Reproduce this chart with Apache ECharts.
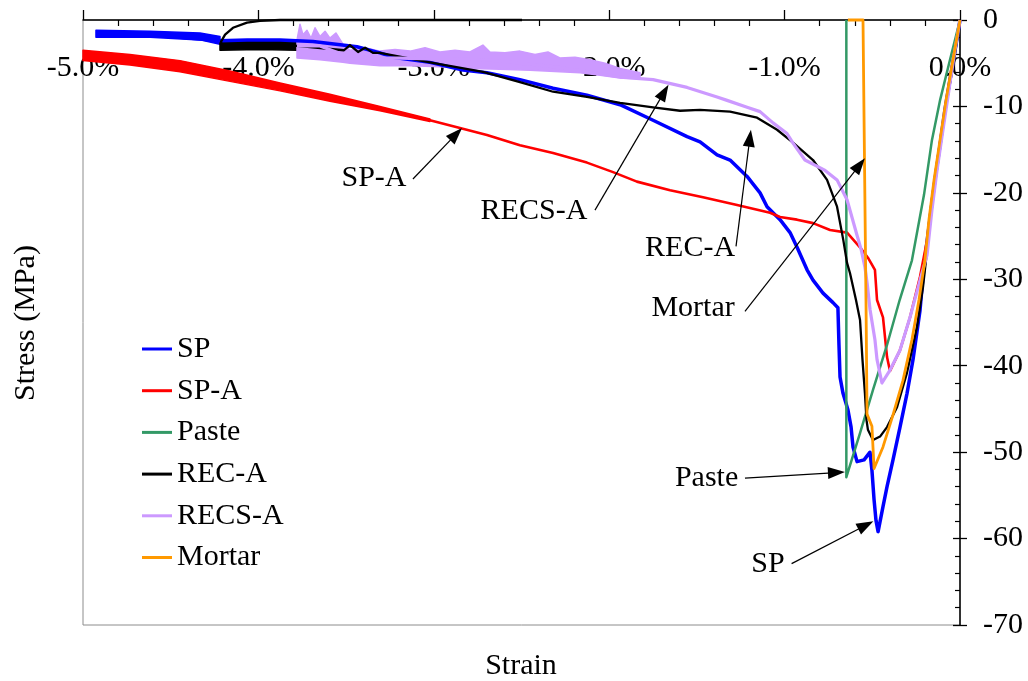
<!DOCTYPE html>
<html>
<head>
<meta charset="utf-8">
<script src="https://cdn.jsdelivr.net/npm/echarts@6/dist/echarts.min.js"></script>
<style>
  html, body { margin: 0; padding: 0; background: #fff; }
  #chart { width: 1028px; height: 681px; }
</style>
</head>
<body>
<div id="chart"></div>
<script>
// ---------- Data (strain in %, stress in MPa) ----------
const xTicks = [-5, -4, -3, -2, -1, 0];
const yTicks = [0, -10, -20, -30, -40, -50, -60, -70];
const seriesNames = ['SP', 'SP-A', 'Paste', 'REC-A', 'RECS-A', 'Mortar'];

const spData = [
  [0,0],[-0.023,-2.9],[-0.057,-6.9],[-0.086,-10.4],[-0.114,-14.5],[-0.143,-18.5],[-0.165,-22.0],
  [-0.194,-26.6],[-0.211,-29.7],[-0.228,-33.6],[-0.268,-39.3],[-0.302,-43.2],[-0.342,-47.1],
  [-0.382,-50.9],[-0.416,-54.0],[-0.439,-56.3],[-0.467,-59.2],
  [-0.479,-57.9],[-0.490,-55.5],[-0.502,-52.1],[-0.513,-50.0],[-0.547,-50.9],[-0.587,-51.1],
  [-0.610,-49.4],[-0.621,-47.1],[-0.639,-45.1],[-0.667,-43.2],[-0.684,-41.3],[-0.690,-37.6],
  [-0.696,-33.3],[-0.724,-32.7],[-0.781,-31.6],[-0.838,-30.1],[-0.872,-28.9],[-0.929,-26.3],
  [-0.969,-24.6],[-1.026,-23.1],[-1.100,-21.6],[-1.140,-20.0],[-1.214,-18.1],[-1.311,-16.2],
  [-1.385,-15.6],[-1.482,-14.1],[-1.556,-13.5],[-1.750,-11.6],[-1.938,-9.8],[-2.127,-8.7],
  [-2.320,-7.9],[-2.509,-6.9],[-2.697,-6.1],[-2.834,-5.8],[-3.022,-4.9],[-3.233,-4.3],
  [-3.307,-3.8],[-3.438,-3.1],[-3.689,-2.5],[-3.877,-2.3],[-4.065,-2.3],[-4.219,-2.4],
  [-4.447,-2.0],[-4.635,-1.7],[-4.829,-1.6],[-4.926,-1.6]
];
const spAData = [
  [0,0],[-0.034,-4.0],[-0.068,-8.1],[-0.103,-12.7],[-0.137,-17.4],[-0.160,-20.8],[-0.188,-25.5],
  [-0.228,-29.7],[-0.285,-34.4],[-0.342,-38.2],[-0.399,-40.6],
  [-0.416,-39.0],[-0.439,-34.4],[-0.473,-32.4],[-0.485,-28.9],[-0.525,-27.5],[-0.570,-26.3],
  [-0.644,-24.6],[-0.741,-24.3],[-0.838,-23.5],[-0.929,-23.1],[-1.026,-22.8],[-1.083,-22.3],
  [-1.271,-21.4],[-1.465,-20.5],[-1.653,-19.7],[-1.842,-18.7],[-1.978,-17.6],[-2.127,-16.5],
  [-2.320,-15.4],[-2.509,-14.5],[-2.697,-13.3],[-2.851,-12.5],[-3.022,-11.6],[-3.307,-10.2],
  [-3.592,-9.0],[-3.877,-7.7],[-4.162,-6.5],[-4.447,-5.3],[-4.732,-4.6],[-5.0,-4.1]
];
const pasteData = [
  [0,0],[-0.057,-4.6],[-0.114,-9.3],[-0.160,-13.9],[-0.205,-20.2],[-0.274,-27.8],[-0.344,-32.4],
  [-0.416,-37.6],[-0.496,-42.8],[-0.570,-47.8],[-0.648,-52.9],[-0.648,0]
];
const recAData = [
  [0,0],[-0.034,-4.6],[-0.074,-9.3],[-0.108,-13.9],[-0.143,-18.5],[-0.171,-23.1],[-0.194,-27.8],
  [-0.211,-30.9],[-0.245,-35.5],[-0.302,-40.8],[-0.359,-44.8],[-0.416,-47.1],[-0.456,-48.2],
  [-0.496,-48.6],
  [-0.525,-47.4],[-0.533,-46.3],[-0.542,-43.2],[-0.556,-39.3],[-0.570,-34.7],[-0.593,-32.4],
  [-0.627,-29.3],[-0.644,-28.1],[-0.665,-25.5],[-0.701,-21.6],[-0.758,-18.5],[-0.838,-16.2],
  [-0.952,-14.2],[-1.043,-12.7],[-1.157,-11.3],[-1.311,-10.6],[-1.482,-10.4],[-1.596,-10.5],
  [-1.750,-10.1],[-1.938,-9.6],[-2.127,-8.9],[-2.320,-8.3],[-2.509,-7.2],[-2.719,-6.0],
  [-3.022,-4.9],[-3.307,-3.8],[-3.347,-3.8],[-3.392,-3.2],[-3.432,-3.7],[-3.478,-2.9],
  [-3.512,-3.5],[-3.780,-3.0],[-3.991,-3.0],[-4.208,-3.0],[-4.213,-2.5],[-4.190,-1.7],
  [-4.145,-0.9],[-4.065,-0.3],[-3.991,-0.1],[-3.877,0],[-2.497,0]
];
const recsAData = [
  [0,0],[-0.029,-3.5],[-0.063,-8.1],[-0.097,-12.7],[-0.131,-17.4],[-0.160,-22.0],[-0.188,-27.2],
  [-0.228,-30.1],[-0.285,-34.4],[-0.342,-38.2],[-0.399,-40.5],[-0.445,-42.0],
  [-0.473,-39.3],[-0.485,-37.0],[-0.513,-33.5],[-0.529,-30.5],[-0.542,-28.6],[-0.563,-26.6],
  [-0.590,-24.7],[-0.644,-20.8],[-0.701,-18.5],[-0.769,-17.4],[-0.884,-16.2],[-0.950,-14.3],
  [-0.988,-13.1],[-1.066,-11.9],[-1.140,-10.6],[-1.214,-10.1],[-1.328,-9.3],[-1.385,-8.9],
  [-1.556,-7.8],[-1.750,-6.9],[-1.938,-6.6],[-2.127,-6.0],[-2.320,-5.4],[-2.509,-5.0],
  [-2.697,-4.6],[-2.891,-4.5],[-3.022,-4.5],[-3.193,-4.4],[-3.364,-4.4],[-3.518,-4.0],
  [-3.649,-3.0],[-3.780,-3.0]
];
const mortarData = [
  [0,0],[-0.040,-4.6],[-0.080,-9.3],[-0.114,-13.9],[-0.148,-18.5],[-0.177,-23.1],[-0.200,-27.8],
  [-0.234,-32.4],[-0.274,-37.0],[-0.325,-41.7],[-0.382,-45.7],[-0.439,-49.4],[-0.490,-51.9],
  [-0.502,-47.0],[-0.530,-45.6],[-0.536,-32.4],[-0.553,0],[-0.639,0]
];

// scatter envelopes of the noisy stretches (upper and lower edges)
const spNoiseUpper = [[-4.926,-1.2],[-4.618,-1.3],[-4.333,-1.5],[-4.219,-1.9]];
const spNoiseLower = [[-4.219,-2.8],[-4.333,-2.3],[-4.618,-2.0],[-4.926,-2.0]];
const spANoiseUpper = [[-5.0,-3.5],[-4.732,-4.0],[-4.447,-4.7],[-4.162,-5.9],[-3.877,-7.3],
  [-3.592,-8.6],[-3.307,-10.0],[-3.022,-11.45]];
const spANoiseLower = [[-3.022,-11.75],[-3.307,-10.5],[-3.592,-9.4],[-3.877,-8.2],[-4.162,-7.1],
  [-4.447,-6.0],[-4.732,-5.2],[-5.0,-4.7]];
const recANoiseUpper = [[-4.219,-2.5],[-4.105,-2.4],[-3.991,-2.5],[-3.877,-2.4],[-3.780,-2.5]];
const recANoiseLower = [[-3.780,-3.5],[-3.991,-3.4],[-4.219,-3.5]];
const recsANoiseUpper = [[-3.780,-2.3],[-3.763,-0.5],[-3.746,-1.7],[-3.723,-1.2],[-3.700,-2.1],
  [-3.677,-0.9],[-3.649,-1.9],[-3.620,-1.3],[-3.592,-2.1],[-3.558,-1.5],[-3.518,-2.8],
  [-3.478,-3.5],[-3.392,-3.2],[-3.307,-3.6],[-3.221,-3.4],[-3.135,-3.6],[-3.050,-3.2],
  [-2.965,-3.7],[-2.879,-3.5],[-2.794,-3.7],[-2.720,-2.9],[-2.680,-3.7],[-2.594,-3.8],
  [-2.509,-3.6],[-2.423,-4.0],[-2.349,-3.7],[-2.281,-4.4],[-2.195,-4.3],[-2.109,-4.6],
  [-2.024,-5.0],[-1.938,-5.6],[-1.824,-6.1]];
const recsANoiseLower = [[-1.824,-6.8],[-1.938,-6.7],[-2.052,-6.4],[-2.166,-6.1],[-2.281,-6.0],
  [-2.452,-5.8],[-2.623,-5.7],[-2.794,-5.6],[-2.965,-5.4],[-3.135,-5.3],[-3.307,-5.3],
  [-3.478,-5.0],[-3.518,-4.9],[-3.649,-4.6],[-3.780,-4.4]];

// annotation labels [strain, stress, text] and arrows [fromStrain, fromStress, toStrain, toStress]
const noteLabels = [
  [-3.341,-18.3,'SP-A'],[-2.429,-22.1,'RECS-A'],[-1.539,-26.4,'REC-A'],
  [-1.522,-33.3,'Mortar'],[-1.445,-53.0,'Paste'],[-1.095,-63.0,'SP']
];
const noteArrows = [
  [-3.119,-18.4,-2.839,-12.5],[-2.081,-22.0,-1.662,-7.5],[-1.277,-26.2,-1.192,-12.7],
  [-1.226,-33.7,-0.542,-16.0],[-1.226,-53.0,-0.656,-52.3],[-0.960,-62.9,-0.494,-58.0]
];

// ---------- Styles ----------
const FONT = '"Liberation Serif", "Times New Roman", serif';
const colors = { 'SP':'#0000ff', 'SP-A':'#ff0000', 'Paste':'#339966', 'REC-A':'#000000', 'RECS-A':'#cc99ff', 'Mortar':'#ff9900' };
const widths = { 'SP':3.5, 'SP-A':2.6, 'Paste':2.5, 'REC-A':2.3, 'RECS-A':3.2, 'Mortar':2.8 };
const mainData = { 'SP':spData, 'SP-A':spAData, 'Paste':pasteData, 'REC-A':recAData, 'RECS-A':recsAData, 'Mortar':mortarData };
const noiseBands = {
  'SP': [spNoiseUpper, spNoiseLower], 'SP-A': [spANoiseUpper, spANoiseLower],
  'REC-A': [recANoiseUpper, recANoiseLower], 'RECS-A': [recsANoiseUpper, recsANoiseLower]
};
const ARROW_HEAD = [12, 17];

const series = [];
seriesNames.forEach(function (name) {
  const band = noiseBands[name];
  if (band) {
    series.push({
      name: name + ' scatter', type: 'custom', silent: true, clip: false, z: 2,
      data: [band[0][0]],
      renderItem: function (params, api) {
        const pts = band[0].concat(band[1]).map(p => api.coord(p));
        return { type: 'polygon', shape: { points: pts },
                 style: { fill: colors[name], stroke: colors[name], lineWidth: 1.5, lineJoin: 'round' } };
      }
    });
  }
  series.push({
    name: name, type: 'line', data: mainData[name], showSymbol: false, symbol: 'none',
    clip: false, lineStyle: { color: colors[name], width: widths[name], join: 'round' },
    itemStyle: { color: colors[name] }, z: 2
  });
});

series.push({
  id: 'notes', name: 'notes', type: 'scatter', data: noteLabels, symbolSize: 1,
  itemStyle: { color: 'rgba(255,255,255,0)', opacity: 1 }, silent: true, z: 5,
  label: { show: true, position: 'inside', formatter: p => p.value[2],
           fontFamily: FONT, fontSize: 30, color: '#000', opacity: 1, textBorderWidth: 0 },
  markLine: {
    silent: true, symbol: ['none', 'triangle'], symbolSize: ARROW_HEAD,
    lineStyle: { color: '#000', width: 1.2, type: 'solid', opacity: 1 },
    itemStyle: { color: '#000' },
    label: { show: false }, emphasis: { disabled: true },
    data: noteArrows.map(a => [{ coord: [a[0], a[1]] }, { coord: [a[2], a[3]] }])
  }
});

const chart = echarts.init(document.getElementById('chart'), null, { renderer: 'canvas' });
const axisCommon = { type: 'value', splitLine: { show: false } };
chart.setOption({
  animation: false,
  backgroundColor: '#fff',
  grid: { left: 83, right: 68, top: 20, bottom: 56, show: true, borderColor: '#8c8c8c', borderWidth: 1 },
  xAxis: [
    Object.assign({}, axisCommon, {
      position: 'top', min: xTicks[0], max: xTicks[xTicks.length - 1], interval: 1,
      axisLine: { show: true, onZero: false, lineStyle: { color: '#000', width: 1.5 } },
      axisTick: { show: true, inside: false, length: 10, lineStyle: { color: '#000', width: 1.3 } },
      axisLabel: { inside: true, margin: 33, fontFamily: FONT, fontSize: 30, color: '#000',
                   formatter: v => v.toFixed(1) + '%' }
    }),
    Object.assign({}, axisCommon, {
      position: 'top', min: xTicks[0], max: xTicks[xTicks.length - 1], interval: 1,
      axisLine: { show: false, onZero: false }, axisLabel: { show: false },
      axisTick: { show: false, inside: true },
      minorTick: { show: true, splitNumber: 5, length: 6, lineStyle: { color: '#000', width: 1.2 } }
    })
  ],
  yAxis: [
    Object.assign({}, axisCommon, {
      position: 'right', min: yTicks[yTicks.length - 1], max: yTicks[0], interval: 10,
      axisLine: { show: true, onZero: false, lineStyle: { color: '#000', width: 1.5 } },
      axisTick: { show: true, inside: false, length: 7, lineStyle: { color: '#000', width: 1.3 } },
      axisLabel: { margin: 23, fontFamily: FONT, fontSize: 30, color: '#000' }
    }),
    Object.assign({}, axisCommon, {
      position: 'right', min: yTicks[yTicks.length - 1], max: yTicks[0], interval: 10,
      axisLine: { show: false, onZero: false }, axisLabel: { show: false },
      axisTick: { show: true, inside: true, length: 7, lineStyle: { color: '#000', width: 1.3 } },
      minorTick: { show: true, splitNumber: 5, length: 5, lineStyle: { color: '#000', width: 1.2 } }
    })
  ],
  legend: {
    data: seriesNames, orient: 'vertical', left: 137, top: 329,
    icon: 'rect', itemWidth: 30, itemHeight: 3, itemGap: 11.7,
    textStyle: { fontFamily: FONT, fontSize: 30, color: '#000', lineHeight: 30 },
    selectedMode: false
  },
  graphic: [
    { type: 'text', x: 26, y: 323, rotation: Math.PI / 2,
      style: { text: 'Stress (MPa)', font: '30px ' + FONT, fill: '#000', textAlign: 'center', textVerticalAlign: 'middle' } },
    { type: 'text', x: 521, y: 666,
      style: { text: 'Strain', font: '30px ' + FONT, fill: '#000', textAlign: 'center', textVerticalAlign: 'middle' } }
  ],
  series: series
});

// Pull each arrow's end back by half the head length so the triangle's tip lands on the target.
const finder = { gridIndex: 0 };
const adjustedArrows = noteArrows.map(function (a) {
  const p0 = chart.convertToPixel(finder, [a[0], a[1]]);
  const p1 = chart.convertToPixel(finder, [a[2], a[3]]);
  const dx = p1[0] - p0[0], dy = p1[1] - p0[1], len = Math.hypot(dx, dy);
  const back = ARROW_HEAD[1] / 2;
  const q = chart.convertFromPixel(finder, [p1[0] - dx / len * back, p1[1] - dy / len * back]);
  return [{ coord: [a[0], a[1]] }, { coord: q }];
});
chart.setOption({ series: [{ id: 'notes', markLine: { data: adjustedArrows } }] });
</script>
</body>
</html>
